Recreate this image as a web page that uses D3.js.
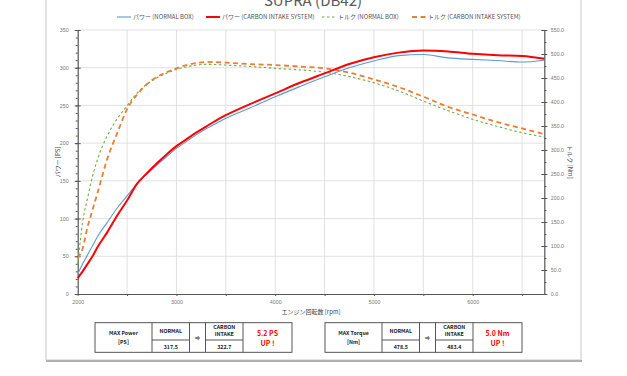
<!DOCTYPE html>
<html>
<head>
<meta charset="utf-8">
<script src="https://cdn.jsdelivr.net/npm/d3@7"></script>
<style>
  body { margin: 0; background: #fff; }
  svg { display: block; font-family: "Noto Sans CJK JP", "Noto Sans", sans-serif; }
</style>
</head>
<body>
<div id="chart"></div>
<script>
// engine speed samples (rpm)
const rpm = [2000, 2050, 2100, 2150, 2200, 2300, 2400, 2500, 2600, 2700, 2800, 2900, 3000, 3100, 3200, 3300,
             3400, 3500, 3750, 4000, 4250, 4500, 4750, 5000, 5250, 5500, 5750, 6000, 6250, 6500, 6725];

// power [PS]
const powerNormal = [26, 40, 52, 64, 76, 95, 114, 130, 146, 159, 171, 182, 193, 202, 211, 219,
                     226, 233, 247, 261.5, 275, 288, 300, 309, 316, 317.5, 313, 311, 309.5, 307.5, 310];
const powerCarbon = [21, 30, 40, 50, 62, 82, 104, 124, 146, 160, 173, 185, 196, 205, 214, 222,
                     230, 237, 252, 266, 280, 292.5, 305, 314, 320, 322.7, 321.5, 318.5, 316.5, 315.5, 312];

// torque [Nm]
const torqueNormal = [60, 150, 200, 245, 280, 330, 365, 392, 418, 437, 450, 460, 468, 473, 477, 478.5,
                      478, 477, 474, 470, 467, 462, 453, 440, 423, 402, 382, 364, 349, 336, 327];
const torqueCarbon = [75, 95, 140, 175, 210, 282, 335, 385, 415, 437, 452, 462, 470, 477, 481, 483.4,
                      483, 482, 479, 477, 474, 470, 461, 447, 431, 411, 390, 374, 358, 345, 333];

const xTicks = [2000, 3000, 4000, 5000, 6000];
const powerTicks = [0, 50, 100, 150, 200, 250, 300, 350];
const torqueTicks = [0, 50, 100, 150, 200, 250, 300, 350, 400, 450, 500, 550];

const seriesNames = ['パワー (NORMAL BOX)', 'パワー (CARBON INTAKE SYSTEM)', 'トルク (NORMAL BOX)', 'トルク (CARBON INTAKE SYSTEM)'];

// summary tables
const powerTable = ['MAX Power', '[PS]', '317.5', '322.7', '5.2 PS'];
const torqueTable = ['MAX Torque', '[Nm]', '478.5', '483.4', '5.0 Nm'];

const W = 627, H = 376;
const svg = d3.select('#chart').append('svg').attr('width', W).attr('height', H);

// outer frame
svg.append('rect').attr('x', 46).attr('y', -10).attr('width', 535).attr('height', 370)
    .attr('fill', 'none').attr('stroke', '#c8c8c8').attr('stroke-width', 1);
svg.append('line').attr('x1', 46).attr('x2', 582).attr('y1', 361).attr('y2', 361)
    .attr('stroke', '#b0b0b0').attr('stroke-width', 2);

// scales
const x = d3.scaleLinear().domain([2000, 6725]).range([77.7, 544.3]);
const yP = d3.scaleLinear().domain([0, 350]).range([294, 30]);
const yT = d3.scaleLinear().domain([0, 550]).range([294, 30]);

// grid
const grid = svg.append('g').attr('stroke', '#d9d9d9').attr('stroke-width', 0.8);
grid.selectAll('.gx').data(d3.range(2500, 6725, 500)).enter().append('line')
    .attr('x1', d => x(d)).attr('x2', d => x(d)).attr('y1', yP(350)).attr('y2', yP(0));
grid.selectAll('.gy').data(powerTicks.slice(1)).enter().append('line')
    .attr('x1', x(2000)).attr('x2', x(6725)).attr('y1', d => yP(d)).attr('y2', d => yP(d));

// axes
const axisColor = '#555';
const styleAxis = g => {
    g.select('.domain').attr('stroke', axisColor).attr('stroke-width', 1.2);
    g.selectAll('.tick line').attr('stroke', axisColor);
    g.selectAll('.tick text').attr('fill', '#777').style('font-size', '5.3px');
};

// minor ticks first so major ticks overlay them
svg.append('g').attr('transform', `translate(${x(2000)},0)`)
    .call(d3.axisLeft(yP).tickValues(d3.range(0, 351, 10)).tickSize(2).tickFormat(''))
    .call(g => g.select('.domain').remove())
    .selectAll('line').attr('stroke', axisColor);
svg.append('g').attr('transform', `translate(${x(6725)},0)`)
    .call(d3.axisRight(yT).tickValues(d3.range(0, 551, 25)).tickSize(2).tickFormat(''))
    .call(g => g.select('.domain').remove())
    .selectAll('line').attr('stroke', axisColor);

svg.append('g').attr('transform', `translate(${x(2000)},0)`)
    .call(d3.axisLeft(yP).tickValues(powerTicks).tickSizeInner(3).tickSizeOuter(0).tickPadding(6))
    .call(styleAxis)
    .call(g => g.selectAll('.tick line').attr('x2', 3).attr('x1', -3));

svg.append('g').attr('transform', `translate(${x(6725)},0)`)
    .call(d3.axisRight(yT).tickValues(torqueTicks).tickFormat(d3.format('.1f')).tickSizeInner(3).tickSizeOuter(0).tickPadding(3.5))
    .call(styleAxis)
    .call(g => g.selectAll('.tick line').attr('x1', -3).attr('x2', 3));

svg.append('g').attr('transform', `translate(0,${yP(0)})`)
    .call(d3.axisBottom(x).tickValues(d3.range(2000, 6725, 500)).tickSize(2).tickFormat(''))
    .call(g => g.select('.domain').remove())
    .selectAll('line').attr('stroke', axisColor);
svg.append('g').attr('transform', `translate(0,${yP(0)})`)
    .call(d3.axisBottom(x).tickValues(xTicks).tickSizeInner(0).tickSizeOuter(0).tickPadding(6).tickFormat(d3.format('d')))
    .call(styleAxis);

// axis titles
svg.append('text').attr('transform', `translate(60,${yP(175)}) rotate(-90)`)
    .attr('text-anchor', 'middle').attr('fill', '#444').style('font-size', '6px').text('パワー [PS]');
svg.append('text').attr('transform', `translate(568,${yP(175)}) rotate(90)`)
    .attr('text-anchor', 'middle').attr('fill', '#444').style('font-size', '6px').text('トルク [Nm]');
svg.append('text').attr('x', 311).attr('y', 314)
    .attr('text-anchor', 'middle').attr('fill', '#444').style('font-size', '6px').text('エンジン回転数 [rpm]');

// title
svg.append('text').attr('x', 313).attr('y', 6).attr('text-anchor', 'middle')
    .attr('fill', '#595959').style('font-size', '15px').text('SUPRA (DB42)');

// series
const line = (scale) => d3.line().x((d, i) => x(rpm[i])).y(d => scale(d)).curve(d3.curveMonotoneX);
const series = [
    { data: powerNormal, scale: yP, color: '#5b9bd5', width: 1.1, dash: null },
    { data: powerCarbon, scale: yP, color: '#ff0000', width: 2, dash: null },
    { data: torqueNormal, scale: yT, color: '#70ad47', width: 1.1, dash: '2.5,2.5' },
    { data: torqueCarbon, scale: yT, color: '#ed7d31', width: 1.8, dash: '5,3.5' }
];
const plot = svg.append('g');
[2, 3, 0, 1].forEach(i => {
    const s = series[i];
    plot.append('path').datum(s.data)
        .attr('d', line(s.scale))
        .attr('fill', 'none')
        .attr('stroke', s.color)
        .attr('stroke-width', s.width)
        .attr('stroke-dasharray', s.dash);
});

// legend
const legendX = [117, 206, 322, 412];
const leg = svg.append('g');
series.forEach((s, i) => {
    leg.append('line').attr('x1', legendX[i]).attr('x2', legendX[i] + 14).attr('y1', 17).attr('y2', 17)
        .attr('stroke', s.color).attr('stroke-width', s.width).attr('stroke-dasharray', s.dash);
    leg.append('text').attr('x', legendX[i] + 16).attr('y', 19.2)
        .attr('fill', '#555').style('font-size', '6px').text(seriesNames[i]);
});

// summary tables
function drawTable(x0, vals) {
    const cols = [x0, x0 + 57, x0 + 94.5, x0 + 110.5, x0 + 148, x0 + 197];
    const y0 = 322.7, y1 = 340, y2 = 352.3;
    const g = svg.append('g');
    g.append('rect').attr('x', cols[0]).attr('y', y0).attr('width', cols[5] - cols[0]).attr('height', y2 - y0)
        .attr('fill', 'none').attr('stroke', '#444').attr('stroke-width', 0.9);
    cols.slice(1, 5).forEach(c => g.append('line').attr('x1', c).attr('x2', c).attr('y1', y0).attr('y2', y2)
        .attr('stroke', '#444').attr('stroke-width', 0.9));
    [[cols[1], cols[2]], [cols[3], cols[4]]].forEach(p => g.append('line')
        .attr('x1', p[0]).attr('x2', p[1]).attr('y1', y1).attr('y2', y1).attr('stroke', '#444').attr('stroke-width', 0.9));
    const t = (tx, ty, s, size, color) => g.append('text').attr('x', tx).attr('y', ty).attr('text-anchor', 'middle')
        .attr('fill', color || '#222').style('font-size', size || '5.3px').style('font-weight', 'bold').text(s);
    const mid = (a, b) => (cols[a] + cols[b]) / 2;
    t(mid(0, 1), 335, vals[0]);
    t(mid(0, 1), 343.5, vals[1]);
    t(mid(1, 2), 333, 'NORMAL');
    t(mid(1, 2), 348.5, vals[2]);
    t(mid(2, 3), 339.5, '⇒');
    t(mid(3, 4), 328.5, 'CARBON');
    t(mid(3, 4), 336, 'INTAKE');
    t(mid(3, 4), 348.5, vals[3]);
    t(mid(4, 5), 335.5, vals[4], '7px', '#ff0000');
    t(mid(4, 5), 345.5, 'UP !', '7px', '#ff0000');
}
drawTable(95, powerTable);
drawTable(325, torqueTable);
</script>
</body>
</html>
